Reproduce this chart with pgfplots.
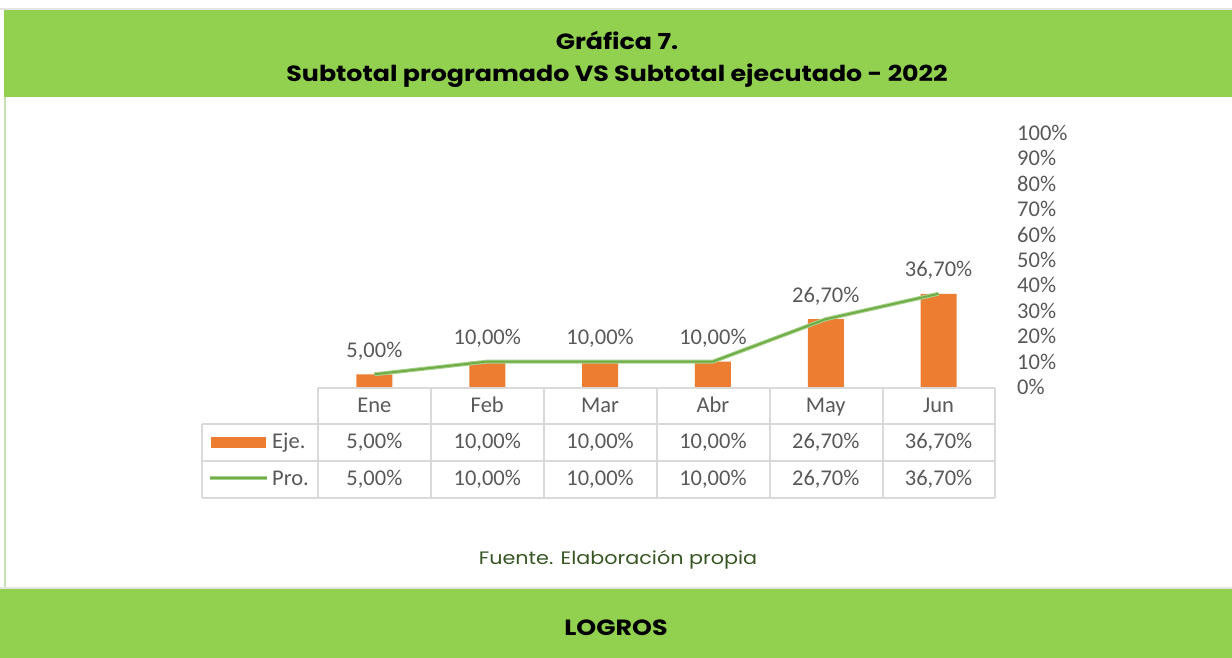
\documentclass[border=0pt]{standalone}
\usepackage{fontspec}
\setmainfont{Carlito}
\newfontfamily\titlefont[FakeStretch=1.15]{Poppins}
\usepackage{pgfplots}
\pgfplotsset{compat=1.18}
\usepackage{pgfplotstable}

\definecolor{hdrgreen}{RGB}{146,208,80}
\definecolor{barorange}{RGB}{237,125,49}
\definecolor{linegreen}{RGB}{112,173,71}
\definecolor{glowgreen}{RGB}{169,209,142}
\definecolor{txtgrey}{RGB}{89,89,89}
\definecolor{gridgrey}{RGB}{217,217,217}
\definecolor{srcgreen}{RGB}{55,86,35}
\definecolor{bordergreen}{RGB}{197,224,180}

\pgfplotstableread{
x mes eje pro
0 Ene 5 5
1 Feb 10 10
2 Mar 10 10
3 Abr 10 10
4 May 26.7 26.7
5 Jun 36.7 36.7
}\datatable

\newcommand{\pct}[1]{\pgfmathprintnumber[fixed,fixed zerofill,precision=2,use comma]{#1}\%}
\newcommand{\cfont}{\fontsize{22.5}{24}\selectfont}

\begin{document}
\begin{tikzpicture}
\begin{scope}[x=1pt,y=1pt]
\path[use as bounding box] (0,0) rectangle (1232,658);
\fill[white] (0,0) rectangle (1232,658);
% header band
\fill[gridgrey!70] (0,648) rectangle (1232,650);
\fill[hdrgreen] (4,561) rectangle (1232,648);
% left border of white area
\fill[bordergreen] (4,70) rectangle (6,561);
% bottom band
\fill[gridgrey!70] (0,69) rectangle (1232,71);
\fill[hdrgreen] (0,0) rectangle (1232,69);

\node[font=\titlefont\bfseries\fontsize{22}{26}\selectfont] at (617,618) {Gráfica 7.};
\node[font=\titlefont\bfseries\fontsize{22}{26}\selectfont] at (617,582) {Subtotal programado VS Subtotal ejecutado - 2022};
\node[font=\titlefont\bfseries\fontsize{22}{26}\selectfont] at (616,30) {LOGROS};
\node[font=\titlefont\fontsize{18}{21}\selectfont, text=srcgreen] at (618,98) {Fuente. Elaboración propia};
\end{scope}

\begin{axis}[
  at={(318pt,271pt)}, anchor=south west,
  scale only axis, width=677pt, height=254pt,
  xmin=-0.5, xmax=5.5, ymin=0, ymax=100,
  clip=false,
  axis line style={draw=none},
  major tick length=0pt,
  /pgf/number format/assume math mode=true,
  ytick={0,10,...,100},
  yticklabel pos=right,
  yticklabel={\pgfmathprintnumber{\tick}\%},
  yticklabel style={anchor=west, xshift=22pt, inner sep=0pt, text=txtgrey, font=\cfont},
  xtick={0,...,5},
  xticklabels={Ene,Feb,Mar,Abr,May,Jun},
  xticklabel style={anchor=base, yshift=-26pt, inner sep=0pt, text=txtgrey, font=\cfont},
]
\addplot[ybar, bar width=36pt, fill=barorange, draw=none,
  nodes near coords={\pct{\pgfplotspointmeta}},
  point meta=y,
  every node near coord/.append style={anchor=base, yshift=17pt, inner sep=0pt, text=txtgrey, font=\cfont}]
  table[x=x, y=eje] {\datatable};
\addplot[glowgreen, line width=4pt, mark=none] table[x=x, y=pro] {\datatable};
\addplot[linegreen, line width=2pt, mark=none] table[x=x, y=pro] {\datatable};
% table rows
\addplot[draw=none, mark=none,
  nodes near coords={\pct{\pgfplotspointmeta}},
  point meta=\thisrow{eje},
  every node near coord/.append style={anchor=base, yshift=-62pt, inner sep=0pt, text=txtgrey, font=\cfont}]
  table[x=x, y expr=0] {\datatable};
\addplot[draw=none, mark=none,
  nodes near coords={\pct{\pgfplotspointmeta}},
  point meta=\thisrow{pro},
  every node near coord/.append style={anchor=base, yshift=-99pt, inner sep=0pt, text=txtgrey, font=\cfont}]
  table[x=x, y expr=0] {\datatable};
\end{axis}

\begin{scope}[x=1pt,y=1pt]
% table grid
\begin{scope}[gridgrey, line width=2pt]
\draw (318,270) -- (995,270);
\draw (202,234) -- (995,234);
\draw (202,197) -- (995,197);
\draw (202,160) -- (995,160);
\draw (202,234) -- (202,160);
\foreach \xx in {318,431,544,657,770,883,995} \draw (\xx,270) -- (\xx,160);
\end{scope}
% legend keys
\fill[barorange] (211,210) rectangle (266,221);
\draw[glowgreen, line width=4pt] (210,180) -- (267,180);
\draw[linegreen, line width=2pt] (210,180) -- (267,180);
\node[anchor=base west, inner sep=0pt, text=txtgrey, font=\cfont] at (272,209) {Eje.};
\node[anchor=base west, inner sep=0pt, text=txtgrey, font=\cfont] at (272,172) {Pro.};
\end{scope}
\end{tikzpicture}
\end{document}
